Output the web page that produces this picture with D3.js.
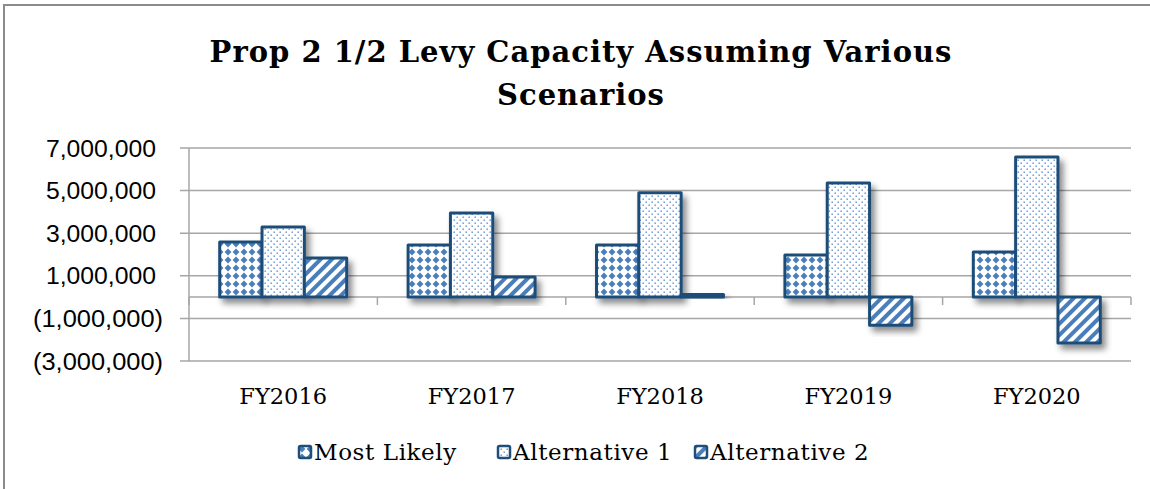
<!DOCTYPE html>
<html>
<head>
<meta charset="utf-8">
<script src="https://cdn.jsdelivr.net/npm/d3@7"></script>
<style>
  body { margin: 0; background: #fff; }
  svg { display: block; }
</style>
</head>
<body>
<script>
const categories = ['FY2016', 'FY2017', 'FY2018', 'FY2019', 'FY2020']
const seriesNames = ['Most Likely', 'Alternative 1', 'Alternative 2']
const mostLikely = [2590000, 2450000, 2450000, 1980000, 2120000]
const alternative1 = [3290000, 3950000, 4900000, 5360000, 6580000]
const alternative2 = [1830000, 940000, 120000, -1320000, -2160000]
const yTicks = [-3000000, -1000000, 1000000, 3000000, 5000000, 7000000]
const titleLines = ['Prop 2 1/2 Levy Capacity Assuming Various', 'Scenarios']

const WIDTH = 1150
const HEIGHT = 489
const PLOT = { left: 189, right: 1131, top: 148, bottom: 361 }
const OUTLINE = '#1f4e79'
const FILL = '#4a7ebb'
const GRID = '#a6a6a6'
const SERIF = '"DejaVu Serif", serif'
const SANS = '"Liberation Sans", Arial, sans-serif'

const seriesValues = [mostLikely, alternative1, alternative2]
const patternIds = ['pat-diamond', 'pat-dots', 'pat-stripes']

const svg = d3.select('body').append('svg')
  .attr('width', WIDTH)
  .attr('height', HEIGHT)

const defs = svg.append('defs')

// diamond checker
const pd = defs.append('pattern')
  .attr('id', 'pat-diamond')
  .attr('patternUnits', 'userSpaceOnUse')
  .attr('width', 8).attr('height', 8)
pd.append('rect').attr('width', 8).attr('height', 8).attr('fill', '#fff')
pd.append('path').attr('d', 'M4,0.6 L7.4,4 L4,7.4 L0.6,4 Z').attr('fill', FILL)

// small dots
const pdots = defs.append('pattern')
  .attr('id', 'pat-dots')
  .attr('patternUnits', 'userSpaceOnUse')
  .attr('width', 6).attr('height', 6)
pdots.append('rect').attr('width', 6).attr('height', 6).attr('fill', '#fff')
pdots.append('rect').attr('x', 0.5).attr('y', 0.5).attr('width', 1.4).attr('height', 1.4).attr('fill', '#5b8bd0')
pdots.append('rect').attr('x', 3.5).attr('y', 3.5).attr('width', 1.4).attr('height', 1.4).attr('fill', '#5b8bd0')

// wide upward diagonal stripes
const pst = defs.append('pattern')
  .attr('id', 'pat-stripes')
  .attr('patternUnits', 'userSpaceOnUse')
  .attr('width', 8).attr('height', 8)
  .attr('patternTransform', 'rotate(45)')
pst.append('rect').attr('width', 8).attr('height', 8).attr('fill', '#fff')
pst.append('rect').attr('x', 0).attr('width', 4).attr('height', 8).attr('fill', FILL)

const shadow = defs.append('filter')
  .attr('id', 'shadow')
  .attr('x', '-30%').attr('y', '-30%')
  .attr('width', '170%').attr('height', '170%')
shadow.append('feDropShadow')
  .attr('dx', 4).attr('dy', 5)
  .attr('stdDeviation', 3)
  .attr('flood-color', '#000')
  .attr('flood-opacity', 0.45)

// outer chart border
svg.append('rect')
  .attr('x', 4).attr('y', 5)
  .attr('width', 1170).attr('height', 510)
  .attr('fill', '#fff')
  .attr('stroke', '#8c8c8c')
  .attr('stroke-width', 2)

// title
const title = svg.append('text')
  .attr('text-anchor', 'middle')
  .attr('font-family', SERIF)
  .attr('font-weight', 'bold')
  .attr('font-size', 29)
  .attr('letter-spacing', 1)
  .attr('fill', '#000')
title.selectAll('tspan')
  .data(titleLines)
  .enter()
  .append('tspan')
  .attr('x', 581)
  .attr('y', (d, i) => 62 + i * 43)
  .text(d => d)

const x = d3.scaleBand()
  .domain(categories)
  .range([PLOT.left, PLOT.right])
  .paddingInner(0.326)
  .paddingOuter(0.163)

const xInner = d3.scaleBand()
  .domain(d3.range(seriesNames.length))
  .range([0, x.bandwidth()])

const y = d3.scaleLinear()
  .domain([-3000000, 7000000])
  .range([PLOT.bottom, PLOT.top])

const fmt = d3.format(',')
const label = v => v < 0 ? `(${fmt(-v)})` : fmt(v)

// gridlines + left ticks
svg.append('g')
  .selectAll('line')
  .data(yTicks)
  .enter()
  .append('line')
  .attr('x1', PLOT.left - 9)
  .attr('x2', PLOT.right)
  .attr('y1', d => y(d))
  .attr('y2', d => y(d))
  .attr('stroke', GRID)
  .attr('stroke-width', 1.5)

// vertical axis line
svg.append('line')
  .attr('x1', PLOT.left).attr('x2', PLOT.left)
  .attr('y1', PLOT.top).attr('y2', PLOT.bottom)
  .attr('stroke', GRID)
  .attr('stroke-width', 1.5)

// y labels (narrowed to match the original's condensed face)
svg.append('g')
  .selectAll('text')
  .data(yTicks)
  .enter()
  .append('text')
  .attr('x', d => d < 0 ? 163 : 156)
  .attr('y', d => y(d) + 8.5)
  .attr('text-anchor', 'end')
  .attr('font-family', SANS)
  .attr('font-size', 23)
  .attr('textLength', d => d < 0 ? 130 : 110)
  .attr('lengthAdjust', 'spacingAndGlyphs')
  .attr('fill', '#000')
  .text(label)

// zero line + category ticks
svg.append('line')
  .attr('x1', PLOT.left).attr('x2', PLOT.right)
  .attr('y1', y(0)).attr('y2', y(0))
  .attr('stroke', GRID)
  .attr('stroke-width', 1.5)

const step = x.step()
svg.append('g')
  .selectAll('line')
  .data(d3.range(categories.length + 1))
  .enter()
  .append('line')
  .attr('x1', i => PLOT.left + i * step)
  .attr('x2', i => PLOT.left + i * step)
  .attr('y1', y(0))
  .attr('y2', y(0) + 8)
  .attr('stroke', GRID)
  .attr('stroke-width', 1.5)

// bars
const bars = []
categories.forEach((c, ci) => {
  seriesValues.forEach((vals, si) => {
    bars.push({ c, si, v: vals[ci] })
  })
})

svg.append('g')
  .selectAll('rect')
  .data(bars)
  .enter()
  .append('rect')
  .attr('x', d => x(d.c) + xInner(d.si))
  .attr('width', xInner.bandwidth())
  .attr('y', d => y(Math.max(0, d.v)))
  .attr('height', d => Math.abs(y(d.v) - y(0)))
  .attr('fill', d => `url(#${patternIds[d.si]})`)
  .attr('stroke', OUTLINE)
  .attr('stroke-width', 3)
  .attr('stroke-linejoin', 'round')
  .attr('filter', 'url(#shadow)')

// category labels
svg.append('g')
  .selectAll('text')
  .data(categories)
  .enter()
  .append('text')
  .attr('x', d => x(d) + x.bandwidth() / 2)
  .attr('y', 404)
  .attr('text-anchor', 'middle')
  .attr('font-family', SERIF)
  .attr('font-size', 22.5)
  .attr('fill', '#000')
  .text(d => d)

// legend
const legendX = [298, 497, 694]
const legend = svg.append('g')
  .selectAll('g')
  .data(seriesNames)
  .enter()
  .append('g')
  .attr('transform', (d, i) => `translate(${legendX[i]}, 445)`)
legend.append('rect')
  .attr('x', 1).attr('y', 1)
  .attr('width', 12).attr('height', 12)
  .attr('rx', 1.5)
  .attr('fill', (d, i) => `url(#${patternIds[i]})`)
  .attr('stroke', OUTLINE)
  .attr('stroke-width', 2.5)
legend.append('text')
  .attr('x', 16)
  .attr('y', 15)
  .attr('font-family', SERIF)
  .attr('font-size', 23)
  .attr('letter-spacing', 0.6)
  .attr('fill', '#000')
  .text(d => d)
</script>
</body>
</html>
